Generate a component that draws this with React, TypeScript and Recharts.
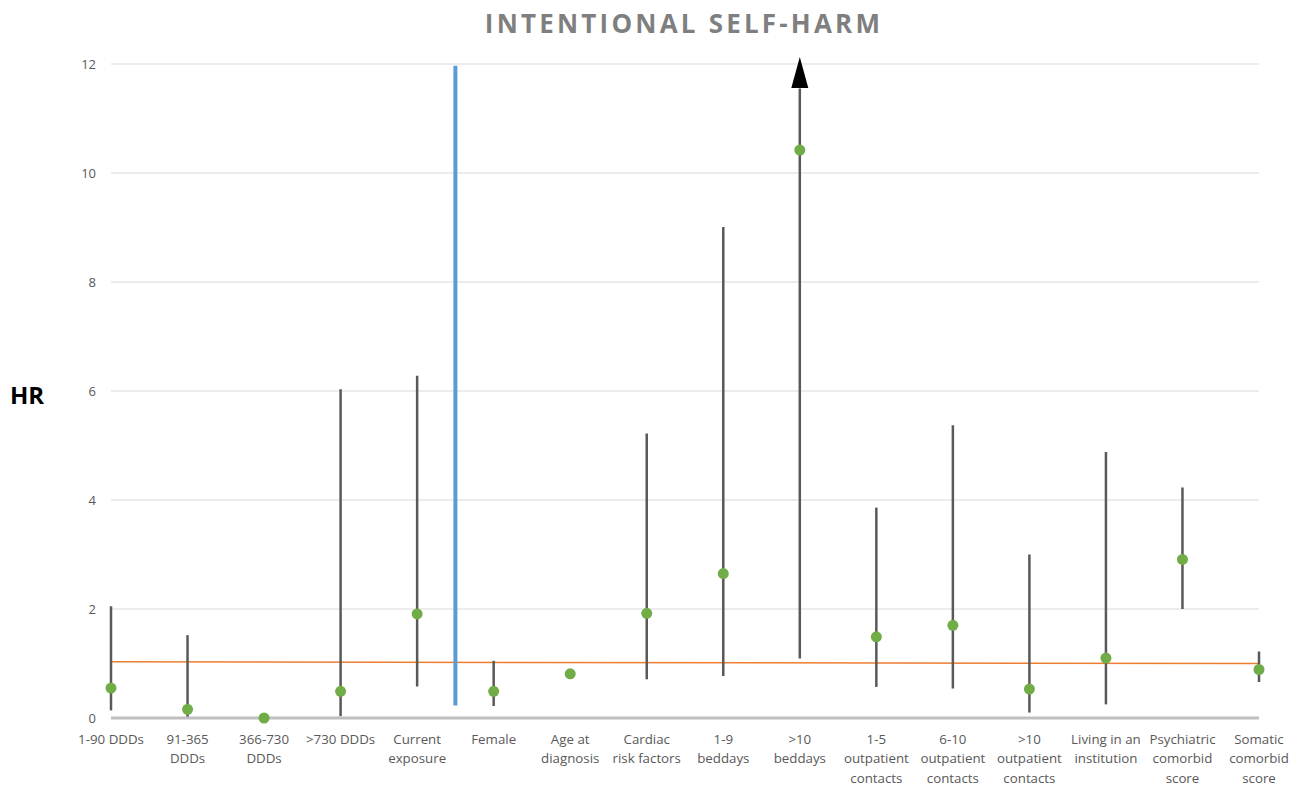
import React from "react";
import {
  LineChart,
  Line,
  XAxis,
  YAxis,
  CartesianGrid,
  ErrorBar,
  ReferenceLine,
  ReferenceDot,
} from "recharts";

const TITLE = "INTENTIONAL SELF-HARM";
const Y_LABEL = "HR";

const categories = [
  "1-90 DDDs",
  "91-365\nDDDs",
  "366-730\nDDDs",
  ">730 DDDs",
  "Current\nexposure",
  "Female",
  "Age at\ndiagnosis",
  "Cardiac\nrisk factors",
  "1-9\nbeddays",
  ">10\nbeddays",
  "1-5\noutpatient\ncontacts",
  "6-10\noutpatient\ncontacts",
  ">10\noutpatient\ncontacts",
  "Living in an\ninstitution",
  "Psychiatric\ncomorbid\nscore",
  "Somatic\ncomorbid\nscore",
];

const hrValues = [0.55, 0.16, 0.0, 0.49, 1.91, 0.49, 0.81, 1.92, 2.65, 10.42, 1.49, 1.7, 0.53, 1.1, 2.91, 0.89];
const lowerCI: (number | null)[] = [0.14, 0.01, null, 0.03, 0.58, 0.22, null, 0.71, 0.77, 1.09, 0.57, 0.54, 0.1, 0.25, 2.0, 0.66];
const upperCI: (number | null)[] = [2.05, 1.52, null, 6.03, 6.28, 1.05, null, 5.22, 9.01, 11.55, 3.86, 5.37, 3.0, 4.88, 4.23, 1.22];
const refLineValues: (number | null)[] = [1.03, null, null, null, null, null, null, null, null, null, null, null, null, null, null, 1.0];

const yTicks = [0, 2, 4, 6, 8, 10, 12];
const DIVIDER_X = 4.5;
const DIVIDER_Y = [0.23, 11.97];
const ARROW_INDEX = 9;
const ARROW_TIP = 12.13;

const data = categories.map((c, i) => ({
  idx: i,
  label: c,
  hr: hrValues[i],
  err:
    lowerCI[i] == null || upperCI[i] == null
      ? [0, 0]
      : [hrValues[i] - (lowerCI[i] as number), (upperCI[i] as number) - hrValues[i]],
  ref: refLineValues[i],
}));

const FONT = "'Open Sans', sans-serif";

const XTick = (props: any) => {
  const { x, y, payload } = props;
  const lines = String(categories[payload.value] ?? "").split("\n");
  return (
    <g transform={`translate(${x},${y})`}>
      <text textAnchor="middle" fill="#595959" fontSize={13.3} fontFamily={FONT}>
        {lines.map((l, i) => (
          <tspan key={i} x={0} y={26 + i * 19.3}>
            {l}
          </tspan>
        ))}
      </text>
    </g>
  );
};

const Arrow = (props: any) => {
  const { cx, cy } = props;
  if (cx == null || cy == null) return null;
  return <path d={`M${cx},${cy} L${cx + 8.5},${cy + 31} L${cx - 8.5},${cy + 31} Z`} fill="#000" />;
};

export default function App() {
  return (
    <div style={{ position: "relative", width: 1290, height: 778, fontFamily: FONT }}>
      <div
        style={{
          position: "absolute",
          left: 676,
          top: 2,
          transform: "translateX(-50%)",
          fontSize: 26,
          lineHeight: 1,
          fontWeight: 700,
          color: "#7F7F7F",
          letterSpacing: 3.2,
          whiteSpace: "nowrap",
        }}
      >
        {TITLE}
      </div>
      <div
        style={{
          position: "absolute",
          left: 2,
          top: 375,
          fontSize: 24,
          lineHeight: 1,
          fontWeight: 700,
          color: "#000",
        }}
      >
        {Y_LABEL}
      </div>
      <LineChart width={1290} height={778} data={data} margin={{ top: 56, right: 39, left: 0, bottom: 0 }}>
        <CartesianGrid vertical={false} stroke="#D9D9D9" strokeWidth={1} />
        <XAxis
          type="number"
          dataKey="idx"
          domain={[0, 15]}
          ticks={categories.map((_, i) => i)}
          interval={0}
          tickLine={false}
          tickSize={0}
          tickMargin={0}
          axisLine={{ stroke: "#BFBFBF", strokeWidth: 3 }}
          tick={<XTick />}
          height={68}
        />
        <YAxis
          type="number"
          domain={[0, 12]}
          ticks={yTicks}
          width={103}
          tickLine={false}
          axisLine={false}
          tickSize={0}
          tickMargin={15}
          tick={{ fill: "#595959", fontSize: 13, fontFamily: FONT }}
        />
        <Line
          dataKey="ref"
          stroke="#ED7D31"
          strokeWidth={1.5}
          dot={false}
          activeDot={false}
          connectNulls
          isAnimationActive={false}
        />
        <Line
          dataKey="hr"
          stroke="none"
          dot={{ r: 5.5, fill: "#70AD47", stroke: "none" }}
          activeDot={false}
          isAnimationActive={false}
        >
          <ErrorBar dataKey="err" direction="y" width={0} stroke="#595959" strokeWidth={2.5} />
        </Line>
        <ReferenceLine
          segment={[
            { x: DIVIDER_X, y: DIVIDER_Y[0] },
            { x: DIVIDER_X, y: DIVIDER_Y[1] },
          ]}
          stroke="#5B9BD5"
          strokeWidth={4}
        />
        <ReferenceDot x={ARROW_INDEX} y={ARROW_TIP} ifOverflow="visible" shape={<Arrow />} />
      </LineChart>
    </div>
  );
}
